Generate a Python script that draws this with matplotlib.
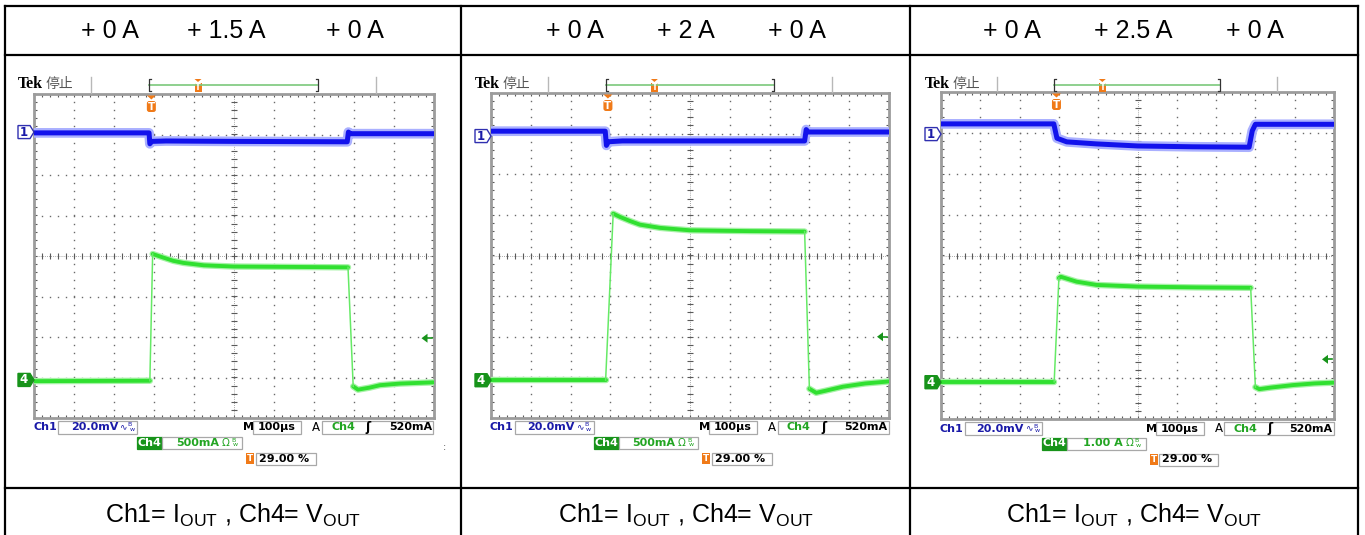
import matplotlib
matplotlib.use('Agg')
import matplotlib.pyplot as plt
from matplotlib.patches import Rectangle, Polygon, FancyBboxPatch
import numpy as np

# ---------------- data ----------------
header_labels = [["+ 0 A", "+ 1.5 A", "+ 0 A"],
                 ["+ 0 A", "+ 2 A", "+ 0 A"],
                 ["+ 0 A", "+ 2.5 A", "+ 0 A"]]
footer_label = r'Ch1= I$_{\mathregular{OUT}}$ , Ch4= V$_{\mathregular{OUT}}$'

ch1_scale = ["20.0mV", "20.0mV", "20.0mV"]
ch4_scale = ["500mA", "500mA", "1.00 A"]
time_scale = ["100µs", "100µs", "100µs"]
trig_level = ["520mA", "520mA", "520mA"]
trig_pos = ["29.00 %", "29.00 %", "29.00 %"]

# Ch1 traces (time in divisions, value in divisions from centre)
ch1_t = [[0, 2.88, 2.90, 2.95, 3.3, 5.0, 7.84, 7.87, 7.92, 10],
         [0, 2.87, 2.90, 2.95, 3.3, 5.0, 7.88, 7.92, 7.97, 10],
         [0, 2.87, 2.95, 3.2, 3.96, 5.0, 6.4, 7.84, 7.92, 8.0, 10]]
ch1_v = [[3.04, 3.04, 2.77, 2.83, 2.84, 2.83, 2.82, 3.06, 3.02, 3.02],
         [3.06, 3.06, 2.71, 2.80, 2.82, 2.82, 2.82, 3.10, 3.04, 3.04],
         [3.22, 3.22, 2.87, 2.78, 2.73, 2.68, 2.66, 2.65, 3.05, 3.21, 3.21]]

# Ch4 traces: low level before the step, loaded level, low level after
ch4_low1_t = [[0, 2.90], [0, 2.88], [0, 2.88]]
ch4_low1_v = [[-3.09, -3.08], [-3.07, -3.07], [-3.09, -3.09]]
ch4_high_t = [[2.97, 3.24, 3.49, 3.74, 4.25, 5.0, 6.5, 7.86],
              [3.07, 3.24, 3.49, 3.74, 4.25, 5.0, 6.5, 7.88],
              [3.00, 3.05, 3.45, 3.96, 5.0, 6.5, 7.88]]
ch4_high_v = [[0.05, -0.04, -0.12, -0.17, -0.23, -0.26, -0.27, -0.28],
              [1.03, 0.95, 0.85, 0.76, 0.68, 0.62, 0.60, 0.59],
              [-0.55, -0.52, -0.64, -0.72, -0.76, -0.78, -0.79]]
ch4_low2_t = [[7.99, 8.11, 8.4, 8.66, 9.16, 10],
              [8.0, 8.17, 8.4, 8.84, 9.4, 10],
              [8.0, 8.1, 8.4, 8.96, 9.5, 10]]
ch4_low2_v = [[-3.22, -3.30, -3.25, -3.19, -3.15, -3.12],
              [-3.28, -3.38, -3.33, -3.23, -3.15, -3.10],
              [-3.22, -3.27, -3.23, -3.17, -3.13, -3.11]]

ch1_marker = [3.06, 2.94, 2.97]
ch4_marker = [-3.06, -3.07, -3.10]
trig_arrow = [-2.03, -2.00, -2.54]
trig_time = [2.90, 2.90, 2.90]

# ---------------- layout ----------------
W, H = 1365, 535
fig = plt.figure(figsize=(W / 100, H / 100), dpi=100)

panels = [(34, 94, 433.5, 418), (491, 93, 889, 418), (941, 92, 1334, 419)]
header_x = [[110, 226, 355], [575, 686, 797], [1012, 1133, 1255]]
footer_x = [233, 686, 1134]

SANS = 'Liberation Sans'
TXT = 'DejaVu Sans'
FS = 8
FW = 'bold'
BLUE_T = '#1a1aa8'
GREEN_T = '#22a522'
ORANGE = '#f07a18'


def draw_grid(ax):
    ax.set_xlim(0, 10)
    ax.set_ylim(-4, 4)
    ax.set_xticks([])
    ax.set_yticks([])
    for s in ax.spines.values():
        s.set_color('#9c9c9c')
        s.set_linewidth(2.0)
    fx = np.arange(0, 10.001, 0.2)
    fy = np.arange(-4, 4.001, 0.2)
    for i in [1, 2, 3, 4, 6, 7, 8, 9]:
        ax.plot(np.full_like(fy, i), fy, ls='none', marker='s', ms=1.0, mew=0, color='#6a6a6a')
    for j in [-3, -2, -1, 1, 2, 3]:
        ax.plot(fx, np.full_like(fx, j), ls='none', marker='s', ms=1.0, mew=0, color='#6a6a6a')
    ax.plot([5, 5], [-4, 4], color='#8a8a8a', lw=0.6, ls=(0, (1, 1.5)))
    ax.plot([0, 10], [0, 0], color='#8a8a8a', lw=0.6, ls=(0, (1, 1.5)))
    ax.plot(np.full_like(fy, 5), fy, ls='none', marker='_', ms=4, mew=0.8, color='#5a5a5a')
    ax.plot(fx, np.full_like(fx, 0), ls='none', marker='|', ms=4, mew=0.8, color='#5a5a5a')
    ax.plot(fx, np.full_like(fx, 4), ls='none', marker='|', ms=5, mew=0.8, color='#5a5a5a')
    ax.plot(fx, np.full_like(fx, -4), ls='none', marker='|', ms=5, mew=0.8, color='#5a5a5a')
    ax.plot(np.full_like(fy, 0), fy, ls='none', marker='_', ms=5, mew=0.8, color='#5a5a5a')
    ax.plot(np.full_like(fy, 10), fy, ls='none', marker='_', ms=5, mew=0.8, color='#5a5a5a')


# graticules and traces first
for p, (L, T, R, B) in enumerate(panels):
    ax = fig.add_axes([L / W, 1 - B / H, (R - L) / W, (B - T) / H])
    draw_grid(ax)
    ax.plot(ch1_t[p], ch1_v[p], color='#aab0ff', lw=7.0, solid_joinstyle='round', zorder=5)
    ax.plot(ch1_t[p], ch1_v[p], color='#1212ec', lw=3.6, solid_joinstyle='round', zorder=6)
    for tt, vv in [(ch4_low1_t[p], ch4_low1_v[p]), (ch4_high_t[p], ch4_high_v[p]),
                   (ch4_low2_t[p], ch4_low2_v[p])]:
        ax.plot(tt, vv, color='#a6f2a6', lw=4.6, solid_joinstyle='round', solid_capstyle='round', zorder=5)
        ax.plot(tt, vv, color='#30e030', lw=2.8, solid_joinstyle='round', solid_capstyle='round', zorder=6)
    ax.plot([ch4_low1_t[p][-1], ch4_high_t[p][0]], [ch4_low1_v[p][-1], ch4_high_v[p][0]],
            color='#66ea66', lw=1.1, zorder=6)
    ax.plot([ch4_high_t[p][-1], ch4_low2_t[p][0]], [ch4_high_v[p][-1], ch4_low2_v[p][0]],
            color='#66ea66', lw=1.1, zorder=6)

# overlay in pixel coordinates
bg = fig.add_axes([0, 0, 1, 1])
bg.set_xlim(0, W)
bg.set_ylim(H, 0)
bg.axis('off')

lw_tab = 1.6
bg.plot([5, 1358], [5.5, 5.5], color='black', lw=lw_tab)
bg.plot([5, 1358], [54.5, 54.5], color='black', lw=lw_tab)
bg.plot([5, 1358], [488, 488], color='black', lw=lw_tab)
for xv in [5, 461, 910, 1358]:
    bg.plot([xv, xv], [5.5, 535], color='black', lw=lw_tab)

for p in range(3):
    for lab, xc in zip(header_labels[p], header_x[p]):
        bg.text(xc, 38.5, lab, ha='center', va='baseline', fontsize=18, family=SANS)
    bg.text(footer_x[p], 523, footer_label, ha='center', va='baseline', fontsize=18, family=SANS)


def box(x0, x1, yc, h=13, ec='#a8a8a8', fc='white'):
    bg.add_patch(Rectangle((x0, yc - h / 2), x1 - x0, h, fc=fc, ec=ec, lw=0.9))


def bw(x, y, color):
    bg.text(x, y - 2.5, 'B', fontsize=4.5, family=TXT, color=color, ha='center', va='center')
    bg.text(x + 2, y + 2, 'w', fontsize=4.5, family=TXT, color=color, ha='center', va='center')


def txt(x, y, s, color='black', ha='center', **kw):
    d = dict(fontsize=FS, family=TXT, fontweight=FW)
    d.update(kw)
    bg.text(x, y, s, ha=ha, va='center', color=color, **d)


for p, (L, T, R, B) in enumerate(panels):
    k = (R - L) / 399.5
    cy = (T + B) / 2
    divh = (B - T) / 8
    X = lambda off: L + off * k

    # channel markers
    y1 = cy - ch1_marker[p] * divh
    bg.add_patch(Polygon([(L - 16, y1 - 6.5), (L - 4, y1 - 6.5), (L, y1), (L - 4, y1 + 6.5), (L - 16, y1 + 6.5)],
                         closed=True, fc='white', ec='#3030b0', lw=1.0))
    txt(L - 10, y1, '1', BLUE_T, fontsize=8.5)
    y4 = cy - ch4_marker[p] * divh
    bg.add_patch(Polygon([(L - 16, y4 - 6.5), (L - 4, y4 - 6.5), (L, y4), (L - 4, y4 + 6.5), (L - 16, y4 + 6.5)],
                         closed=True, fc='#17931a', ec='#17931a', lw=1.0))
    txt(L - 10, y4, '4', 'white', fontsize=8.5)

    # trigger level arrow
    ya = cy - trig_arrow[p] * divh
    bg.add_patch(Polygon([(R - 12, ya), (R - 6, ya - 4.5), (R - 6, ya + 4.5)], closed=True,
                         fc='#17931a', ec='none'))
    bg.plot([R - 7, R - 2], [ya, ya], color='#17931a', lw=1.2)

    # trigger position marker
    tx = L + trig_time[p] * (R - L) / 10 + 1.5
    bg.add_patch(Polygon([(tx - 4.5, T + 1.5), (tx + 4.5, T + 1.5), (tx, T + 5.5)], closed=True,
                         fc=ORANGE, ec='none'))
    bg.add_patch(FancyBboxPatch((tx - 4.5, T + 7), 9, 11, boxstyle='round,pad=0,rounding_size=2.5',
                                fc=ORANGE, ec='none'))
    txt(tx, T + 12.8, 'T', 'white', fontsize=7.5)

    # header bar
    bg.text(L - 16, 84.5, 'Tek', ha='left', va='center', fontsize=11.5, family='Liberation Serif',
            fontweight='bold', color='black')
    bg.text(L + 12, 84.0, '停止', ha='left', va='center', fontsize=10,
            family=['Noto Sans CJK SC', 'DejaVu Sans'], color='#555555')
    for off in [57, 342]:
        bg.plot([X(off), X(off)], [77, T - 1], color='#b8b8b8', lw=1.0)
    b0, b1 = X(115), X(284)
    bg.plot([b0, b1], [85, 85], color='#7cc87c', lw=1.2)
    bg.plot([b0 + 2, b0, b0, b0 + 2], [79, 79, 91, 91], color='#333333', lw=0.9)
    bg.plot([b1 - 2, b1, b1, b1 - 2], [79, 79, 91, 91], color='#333333', lw=0.9)
    st = X(164)
    bg.add_patch(Polygon([(st - 3.5, 79), (st + 3.5, 79), (st, 82)], closed=True, fc=ORANGE, ec='none'))
    bg.add_patch(Rectangle((st - 3.5, 82.5), 7, 9, fc=ORANGE, ec='none'))
    txt(st, 87.2, 'T', 'white', fontsize=6)

    # readouts
    r1, r2, r3 = B + 9.5, B + 24.5, B + 40.5
    txt(L - 1, r1, 'Ch1', BLUE_T, ha='left')
    box(X(24), X(103), r1)
    txt(X(84), r1, ch1_scale[p], BLUE_T, ha='right')
    txt(X(85), r1 - 1, '∿', BLUE_T, ha='left', fontsize=6.5, fontweight='normal')
    bw(X(96), r1, BLUE_T)

    txt(X(214), r1, 'M')
    box(X(219), X(267), r1)
    txt(X(243), r1, time_scale[p])
    txt(X(282), r1, 'A', fontweight='normal', fontsize=8.5)
    box(X(288), X(399), r1)
    txt(X(309), r1, 'Ch4', GREEN_T)
    txt(X(334), r1, 'ʃ', fontsize=9)
    txt(X(398), r1, trig_level[p], ha='right')

    box(X(103), X(128), r2, h=12, ec='#17931a', fc='#17931a')
    txt(X(115.5), r2, 'Ch4', 'white')
    box(X(128), X(208), r2, h=12)
    txt(X(185), r2, ch4_scale[p], GREEN_T, ha='right')
    txt(X(191.5), r2, 'Ω', GREEN_T, fontsize=7.5, fontweight='normal')
    bw(X(199), r2, GREEN_T)

    bg.add_patch(Rectangle((X(212), r3 - 5.5), 8, 11, fc=ORANGE, ec='none'))
    txt(X(212) + 4, r3, 'T', 'white', fontsize=6.5)
    box(X(222), X(282), r3, h=12)
    txt(X(225), r3, trig_pos[p], ha='left')

bg.text(445, 447, ':', ha='center', va='center', fontsize=7, family=TXT, color='#555555')

fig.savefig('out.png', dpi=100)
